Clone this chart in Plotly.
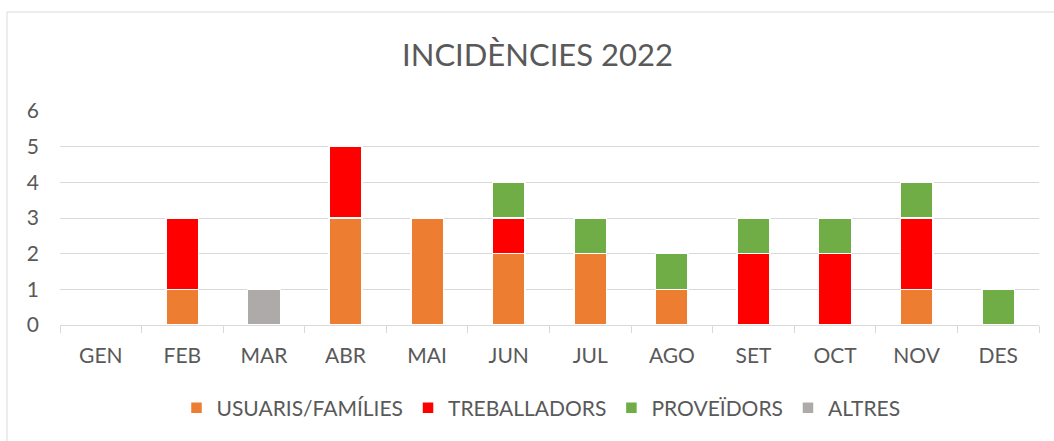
import plotly.graph_objects as go

months = ["GEN", "FEB", "MAR", "ABR", "MAI", "JUN", "JUL", "AGO", "SET", "OCT", "NOV", "DES"]
usuaris = [0, 1, 0, 3, 3, 2, 2, 1, 0, 0, 1, 0]
treballadors = [0, 2, 0, 2, 0, 1, 0, 0, 2, 2, 2, 0]
proveidors = [0, 0, 0, 0, 0, 1, 1, 1, 1, 1, 1, 1]
altres = [0, 0, 1, 0, 0, 0, 0, 0, 0, 0, 0, 0]

series = [
    ("USUARIS/FAMÍLIES", usuaris, "#ED7D31"),
    ("TREBALLADORS", treballadors, "#FF0000"),
    ("PROVEÏDORS", proveidors, "#70AD47"),
    ("ALTRES", altres, "#AEAAAA"),
]

FONT = "Lato"
TXT = "#595959"

fig = go.Figure()
for name, vals, color in series:
    fig.add_trace(go.Bar(
        x=months, y=vals, name=name,
        marker=dict(color=color, line=dict(color="white", width=1.5)),
    ))

W, H = 1054, 441
L, R, T, B = 60, 15, 111, 116
pw = W - L - R
ph = H - T - B

fig.update_layout(
    width=W, height=H,
    barmode="stack",
    bargap=0.6,
    paper_bgcolor="white",
    plot_bgcolor="white",
    margin=dict(l=L, r=R, t=T, b=B),
    font=dict(family=FONT, color=TXT, size=21),
    title=dict(text="INCIDÈNCIES 2022", x=537.5 / W, xanchor="center",
               y=1 - 55 / H, yanchor="middle", yref="container",
               font=dict(family=FONT, size=31, color=TXT)),
    xaxis=dict(
        showline=True, linecolor="#D9D9D9", linewidth=1,
        ticks="outside", ticklen=7, tickcolor="#D9D9D9", tickson="boundaries",
        showgrid=False, tickfont=dict(size=21, color=TXT), ticklabelstandoff=12,
    ),
    yaxis=dict(
        range=[0, 6], dtick=1, showgrid=True, gridcolor="#D9D9D9", gridwidth=1.2,
        zeroline=False, showline=False, tickfont=dict(size=21, color=TXT),
        ticklabelstandoff=20,
    ),
    legend=dict(
        orientation="h", x=(541 - L) / pw, xanchor="center",
        y=-(408 - (T + ph)) / ph, yanchor="middle",
        font=dict(size=21, color=TXT), itemwidth=30,
        traceorder="normal",
    ),
    shapes=[dict(
        type="rect", xref="paper", yref="paper",
        x0=(7 - L) / pw, x1=(1070 - L) / pw,
        y0=-(455 - (T + ph)) / ph, y1=((T + ph) - 12) / ph,
        line=dict(color="#D9D9D9", width=1), fillcolor="rgba(0,0,0,0)",
        layer="below",
    )],
)

fig.write_html("out.html", config={"displayModeBar": False},
               post_script="document.body.style.margin='0';")
